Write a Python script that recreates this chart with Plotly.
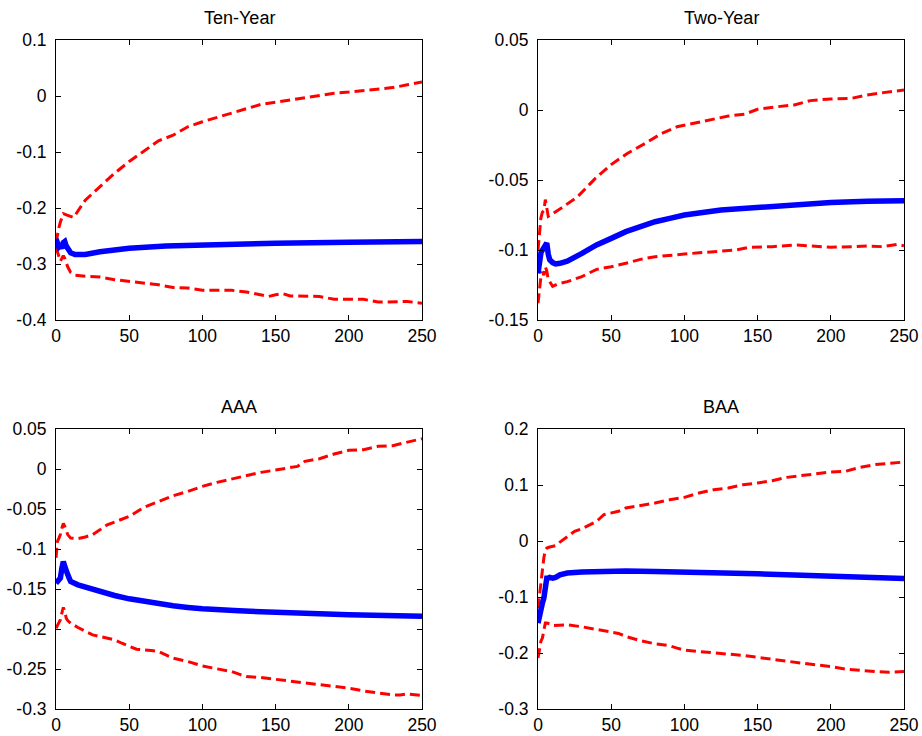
import plotly.graph_objects as go

# ---------------- data ----------------
titles = ["Ten-Year", "Two-Year", "AAA", "BAA"]

# Ten-Year
ten_x_up = [0, 1, 2, 3, 5, 8, 12, 20, 30, 40, 50, 60, 70, 80, 90, 100, 110, 120, 130, 140, 150, 160, 170, 180, 190, 200, 210, 220, 230, 240, 250]
ten_up = [-0.262, -0.245, -0.235, -0.225, -0.21, -0.213, -0.217, -0.186, -0.162, -0.138, -0.117, -0.099, -0.080, -0.070, -0.055, -0.046, -0.038, -0.031, -0.022, -0.015, -0.011, -0.007, -0.003, 0.002, 0.005, 0.007, 0.010, 0.013, 0.015, 0.020, 0.025]
ten_x_mid = [0, 1, 2, 3, 4, 5, 6, 7, 8, 10, 13, 20, 30, 40, 50, 75, 100, 150, 200, 250]
ten_mid = [-0.255, -0.265, -0.270, -0.268, -0.272, -0.262, -0.260, -0.268, -0.272, -0.280, -0.283, -0.283, -0.278, -0.274, -0.272, -0.268, -0.266, -0.263, -0.261, -0.260]
ten_x_lo = [0, 1, 2, 3, 4, 5, 6, 8, 10, 13, 20, 30, 40, 50, 60, 70, 80, 90, 100, 110, 120, 130, 140, 145, 150, 155, 160, 170, 180, 190, 210, 220, 230, 240, 250]
ten_lo = [-0.270, -0.280, -0.290, -0.295, -0.290, -0.285, -0.290, -0.305, -0.315, -0.320, -0.322, -0.323, -0.328, -0.331, -0.333, -0.337, -0.342, -0.343, -0.347, -0.347, -0.347, -0.350, -0.355, -0.358, -0.355, -0.353, -0.357, -0.358, -0.358, -0.363, -0.363, -0.368, -0.368, -0.367, -0.370]

# Two-Year
two_x_up = [0, 1, 2, 3, 4, 5, 6, 7, 10, 16, 27, 39, 50, 61, 73, 84, 95, 107, 118, 130, 141, 150, 164, 175, 186, 200, 214, 225, 236, 250]
two_up = [-0.100, -0.085, -0.077, -0.073, -0.072, -0.064, -0.070, -0.076, -0.074, -0.070, -0.062, -0.049, -0.039, -0.031, -0.024, -0.017, -0.012, -0.0095, -0.0067, -0.0043, -0.003, 0.0005, 0.0024, 0.0036, 0.0067, 0.0079, 0.0083, 0.0107, 0.0124, 0.0143]
two_x_mid = [0, 1, 2, 3, 4, 5, 6, 7, 8, 10, 12, 15, 20, 30, 40, 50, 60, 70, 80, 90, 100, 125, 150, 175, 200, 225, 250]
two_mid = [-0.1167, -0.105, -0.102, -0.100, -0.0976, -0.096, -0.095, -0.103, -0.107, -0.109, -0.110, -0.1095, -0.108, -0.1024, -0.0964, -0.0917, -0.0869, -0.0833, -0.0798, -0.0774, -0.0750, -0.0715, -0.0695, -0.0671, -0.0660, -0.0652, -0.0648]
two_x_lo = [0, 1, 2, 3, 4, 5, 6, 7, 8, 10, 12, 15, 20, 30, 40, 50, 60, 70, 80, 90, 100, 110, 125, 135, 145, 160, 175, 185, 200, 215, 225, 235, 245, 250]
two_lo = [-0.138, -0.126, -0.119, -0.1155, -0.118, -0.112, -0.115, -0.121, -0.123, -0.126, -0.125, -0.1238, -0.1226, -0.119, -0.1138, -0.112, -0.1095, -0.1067, -0.1048, -0.1036, -0.1029, -0.102, -0.1005, -0.100, -0.098, -0.0976, -0.0964, -0.097, -0.098, -0.0976, -0.0971, -0.0976, -0.096, -0.097]

# AAA
aaa_x_up = [0, 1, 2, 3, 4, 5, 6, 7, 8, 10, 15, 20, 25, 30, 35, 40, 50, 60, 70, 80, 90, 100, 110, 120, 130, 140, 150, 160, 165, 170, 180, 190, 200, 210, 220, 230, 240, 250]
aaa_up = [-0.111, -0.0905, -0.0864, -0.082, -0.074, -0.068, -0.0718, -0.078, -0.082, -0.0864, -0.087, -0.085, -0.082, -0.076, -0.0697, -0.0663, -0.0593, -0.048, -0.0405, -0.0334, -0.028, -0.0217, -0.0167, -0.0126, -0.0084, -0.0042, -0.0013, 0.002, 0.0033, 0.0096, 0.0129, 0.0187, 0.0233, 0.0242, 0.0283, 0.0292, 0.0337, 0.0379]
aaa_x_mid = [0, 1, 2, 3, 4, 5, 6, 7, 8, 9, 10, 15, 20, 30, 40, 50, 60, 70, 80, 90, 100, 125, 150, 175, 200, 225, 250]
aaa_mid = [-0.1427, -0.1406, -0.139, -0.1364, -0.124, -0.1156, -0.1218, -0.130, -0.132, -0.1364, -0.1406, -0.1448, -0.1477, -0.1531, -0.1581, -0.1623, -0.1656, -0.1685, -0.171, -0.1731, -0.1748, -0.1773, -0.1794, -0.181, -0.1823, -0.1831, -0.184]
aaa_x_lo = [0, 1, 2, 3, 4, 5, 6, 7, 8, 10, 15, 20, 25, 30, 40, 45, 50, 55, 65, 70, 75, 80, 90, 100, 110, 120, 125, 130, 140, 150, 160, 170, 180, 190, 200, 210, 220, 230, 235, 240, 250]
aaa_lo = [-0.199, -0.1948, -0.1927, -0.1885, -0.180, -0.173, -0.178, -0.1865, -0.1894, -0.1927, -0.1981, -0.2031, -0.2073, -0.2094, -0.2136, -0.2178, -0.2219, -0.2252, -0.2269, -0.2281, -0.2323, -0.2365, -0.2407, -0.2461, -0.2498, -0.2532, -0.2565, -0.2594, -0.2607, -0.2628, -0.2657, -0.2678, -0.2699, -0.272, -0.274, -0.2774, -0.2803, -0.2824, -0.2824, -0.2811, -0.2832]

# BAA
baa_x_up = [0, 1, 2, 3, 4, 5, 6, 8, 10, 12, 15, 20, 25, 30, 35, 40, 45, 50, 55, 60, 70, 80, 90, 100, 110, 120, 130, 140, 150, 160, 170, 180, 190, 200, 210, 220, 230, 240, 250]
baa_up = [-0.120, -0.096, -0.072, -0.048, -0.030, -0.0156, -0.0125, -0.0107, -0.0096, -0.0084, -0.0019, 0.0082, 0.0172, 0.022, 0.029, 0.035, 0.047, 0.050, 0.053, 0.059, 0.063, 0.0678, 0.0737, 0.0779, 0.0856, 0.0916, 0.0946, 0.1005, 0.1035, 0.1077, 0.1136, 0.1172, 0.1196, 0.1232, 0.1244, 0.1315, 0.1363, 0.138, 0.141]
baa_x_mid = [0, 1, 2, 3, 4, 5, 6, 7, 8, 10, 12, 15, 20, 30, 40, 60, 80, 100, 125, 150, 175, 200, 225, 250]
baa_mid = [-0.1466, -0.1317, -0.1198, -0.1109, -0.102, -0.0781, -0.0662, -0.066, -0.065, -0.0662, -0.065, -0.0603, -0.0573, -0.0555, -0.0543, -0.0537, -0.0543, -0.0549, -0.0567, -0.0585, -0.0609, -0.0633, -0.065, -0.0668]
baa_x_lo = [0, 1, 2, 3, 4, 5, 6, 8, 10, 15, 20, 30, 35, 40, 50, 55, 60, 70, 80, 90, 95, 100, 110, 120, 130, 140, 150, 160, 170, 180, 190, 200, 210, 220, 230, 240, 250]
baa_lo = [-0.209, -0.191, -0.179, -0.1734, -0.1615, -0.1466, -0.1466, -0.148, -0.1508, -0.1508, -0.1496, -0.1532, -0.1556, -0.159, -0.1627, -0.165, -0.1705, -0.178, -0.1836, -0.1871, -0.1913, -0.1949, -0.1973, -0.2002, -0.202, -0.2044, -0.208, -0.2121, -0.2151, -0.218, -0.2211, -0.2241, -0.2288, -0.2312, -0.233, -0.2342, -0.233]

x_ticks = [0, 50, 100, 150, 200, 250]
y_ranges = [[-0.4, 0.1], [-0.15, 0.05], [-0.3, 0.05], [-0.3, 0.2]]
y_ticks = [
    [-0.4, -0.3, -0.2, -0.1, 0, 0.1],
    [-0.15, -0.1, -0.05, 0, 0.05],
    [-0.3, -0.25, -0.2, -0.15, -0.1, -0.05, 0, 0.05],
    [-0.3, -0.2, -0.1, 0, 0.1, 0.2],
]
y_ticktext = [
    ["-0.4", "-0.3", "-0.2", "-0.1", "0", "0.1"],
    ["-0.15", "-0.1", "-0.05", "0", "0.05"],
    ["-0.3", "-0.25", "-0.2", "-0.15", "-0.1", "-0.05", "0", "0.05"],
    ["-0.3", "-0.2", "-0.1", "0", "0.1", "0.2"],
]

panels = [
    (ten_x_up, ten_up, ten_x_mid, ten_mid, ten_x_lo, ten_lo),
    (two_x_up, two_up, two_x_mid, two_mid, two_x_lo, two_lo),
    (aaa_x_up, aaa_up, aaa_x_mid, aaa_mid, aaa_x_lo, aaa_lo),
    (baa_x_up, baa_up, baa_x_mid, baa_mid, baa_x_lo, baa_lo),
]

# ---------------- layout ----------------
W, H = 922, 736
x_doms = [[56 / W, 422 / W], [538 / W, 904 / W]]
y_doms = [[1 - 320 / H, 1 - 40 / H], [1 - 709 / H, 1 - 429 / H]]
FONT = "Liberation Sans, Arial, Helvetica, sans-serif"
TICK_SIZE = 17.5
TITLE_SIZE = 18

fig = go.Figure()
layout = dict(
    width=W, height=H, margin=dict(l=0, r=0, t=0, b=0, autoexpand=False),
    paper_bgcolor="white", plot_bgcolor="white", showlegend=False,
    font=dict(family=FONT, size=TICK_SIZE, color="black"),
)
annotations = []
for i, (xu, yu, xm, ym, xl, yl) in enumerate(panels):
    r, c = divmod(i, 2)
    suf = "" if i == 0 else str(i + 1)
    xa, ya = "x" + suf, "y" + suf
    red = dict(color="#ff0000", width=3, dash="10px,5px")
    fig.add_trace(go.Scatter(x=xu, y=yu, mode="lines", line=red, xaxis=xa, yaxis=ya, hoverinfo="skip"))
    fig.add_trace(go.Scatter(x=xl, y=yl, mode="lines", line=red, xaxis=xa, yaxis=ya, hoverinfo="skip"))
    fig.add_trace(go.Scatter(x=xm, y=ym, mode="lines", line=dict(color="#0000ff", width=5.5), xaxis=xa, yaxis=ya, hoverinfo="skip"))
    common = dict(showline=True, linecolor="black", linewidth=1, mirror="allticks",
                  ticks="inside", ticklen=5, tickcolor="black", showgrid=False,
                  zeroline=False, automargin=False,
                  tickfont=dict(family=FONT, size=TICK_SIZE, color="black"))
    layout["xaxis" + suf] = dict(domain=x_doms[c], anchor=ya, range=[0, 250],
                                 tickvals=x_ticks, ticktext=[str(t) for t in x_ticks], **common)
    layout["yaxis" + suf] = dict(domain=y_doms[r], anchor=xa, range=y_ranges[i],
                                 tickvals=y_ticks[i], ticktext=y_ticktext[i],
                                 ticklabelstandoff=5, **common)
    annotations.append(dict(text=titles[i], xref="paper", yref="paper",
                            x=(x_doms[c][0] + x_doms[c][1]) / 2, y=y_doms[r][1],
                            yshift=10, xanchor="center", yanchor="bottom", showarrow=False,
                            font=dict(family=FONT, size=TITLE_SIZE, color="black")))
layout["annotations"] = annotations
fig.update_layout(**layout)
fig.write_html("out.html", config={"displayModeBar": False},
               post_script="document.body.style.margin='0';")
